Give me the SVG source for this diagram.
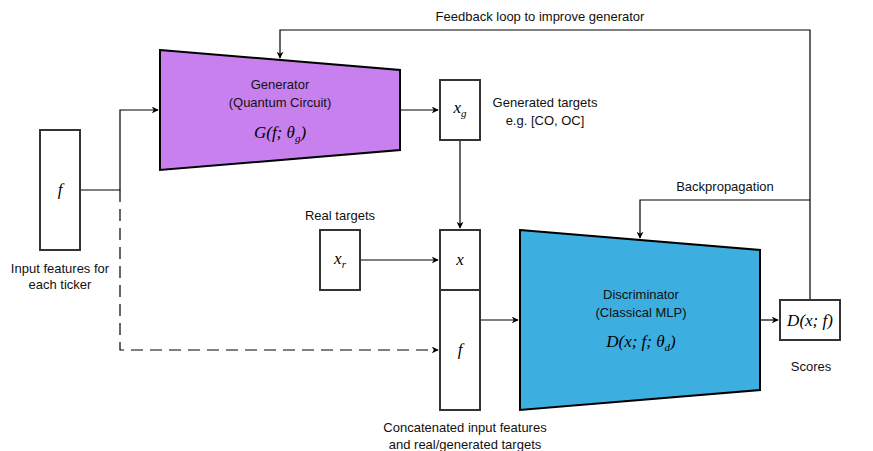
<svg xmlns="http://www.w3.org/2000/svg" width="873" height="451" viewBox="0 0 873 451">
<defs>
<marker id="arr" viewBox="0 0 10 10" refX="9" refY="5" markerWidth="7" markerHeight="7" markerUnits="userSpaceOnUse" orient="auto">
<path d="M0,0 L10,5 L0,10 L3,5 Z" fill="#000"/>
</marker>
<style>
.box{fill:#fff;stroke:#333;stroke-width:2}
.trap{stroke:#000;stroke-width:2}
.lbl{font-family:"Liberation Sans",Arial,sans-serif;font-size:13px;fill:#111;text-anchor:middle}
.math{font-family:"Liberation Serif","DejaVu Serif",serif;font-style:italic;font-size:17px;fill:#000;text-anchor:middle}
.sub{font-size:11px}
.edge{fill:none;stroke:#000;stroke-width:1.2}
</style>
</defs>
<rect width="873" height="451" fill="#fff"/>

<g id="connectors">
<path class="edge" d="M81,190 H120 V110 H158" marker-end="url(#arr)"/>
<path class="edge" d="M120,190 V350 H438" stroke-dasharray="12,7" marker-end="url(#arr)"/>
<path class="edge" d="M400,110 H438" marker-end="url(#arr)"/>
<path class="edge" d="M460,140 V228" marker-end="url(#arr)"/>
<path class="edge" d="M360,260 H438" marker-end="url(#arr)"/>
<path class="edge" d="M480,320 H518" marker-end="url(#arr)"/>
<path class="edge" d="M760,320 H778" marker-end="url(#arr)"/>
<path class="edge" d="M810,300 V30 H280 V58" marker-end="url(#arr)"/>
<path class="edge" d="M810,200 H640 V238" marker-end="url(#arr)"/>
<text class="lbl" x="540" y="21">Feedback loop to improve generator</text>
<text class="lbl" x="725" y="191">Backpropagation</text>
</g>

<g id="input-f">
<rect class="box" x="40" y="130" width="40" height="120"/>
<text class="math" x="60" y="195">f</text>
<text class="lbl" x="60" y="273">Input features for</text>
<text class="lbl" x="60" y="289">each ticker</text>
</g>

<g id="generator">
<polygon class="trap" points="160,50 400,70 400,150 160,170" fill="#c880ee"/>
<text class="lbl" x="280" y="89">Generator</text>
<text class="lbl" x="280" y="107">(Quantum Circuit)</text>
<text class="math" x="280" y="138">G(f; θ<tspan class="sub" dy="4">g</tspan><tspan dy="-4">)</tspan></text>
</g>

<g id="xg">
<rect class="box" x="440" y="80" width="40" height="60"/>
<text class="math" x="460" y="113">x<tspan class="sub" dy="4">g</tspan></text>
<text class="lbl" x="545" y="107">Generated targets</text>
<text class="lbl" x="545" y="125">e.g. [CO, OC]</text>
</g>

<g id="xr">
<rect class="box" x="320" y="230" width="40" height="60"/>
<text class="math" x="340" y="264">x<tspan class="sub" dy="4">r</tspan></text>
<text class="lbl" x="340" y="220">Real targets</text>
</g>

<g id="concat">
<rect class="box" x="440" y="230" width="40" height="60"/>
<text class="math" x="460" y="265">x</text>
<rect class="box" x="440" y="290" width="40" height="120"/>
<text class="math" x="460" y="355">f</text>
<text class="lbl" x="465" y="432">Concatenated input features</text>
<text class="lbl" x="465" y="449">and real/generated targets</text>
</g>

<g id="discriminator">
<polygon class="trap" points="520,230 760,250 760,390 520,410" fill="#3daee0"/>
<text class="lbl" x="641" y="299">Discriminator</text>
<text class="lbl" x="641" y="317">(Classical MLP)</text>
<text class="math" x="641" y="347">D(x; f; θ<tspan class="sub" dy="4">d</tspan><tspan dy="-4">)</tspan></text>
</g>

<g id="scores">
<rect class="box" x="780" y="300" width="60" height="40"/>
<text class="math" x="810" y="326">D(x; f)</text>
<text class="lbl" x="811" y="371">Scores</text>
</g>
</svg>
